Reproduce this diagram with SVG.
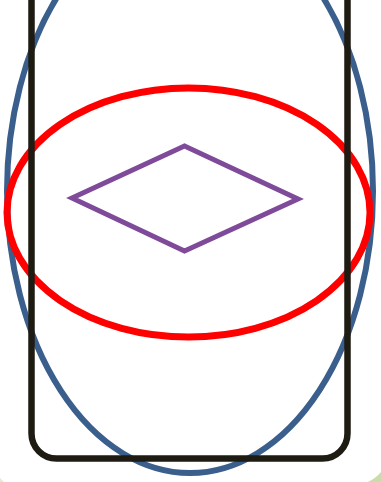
<svg xmlns="http://www.w3.org/2000/svg" width="381" height="482" viewBox="0 0 381 482">
<style>
.s{fill:none}
</style>
<rect width="381" height="482" fill="#ffffff"/>
<path d="M368,482 Q376,478 381,472 L381,482 Z" fill="#c9dca9"/>
<path d="M0,478 Q2,480 4,482 L0,482 Z" fill="#e3ecd3"/>
<g id="blue-ellipse"><ellipse class="s" cx="190" cy="191" rx="183" ry="282" stroke="#3a5f8c" stroke-width="6"/></g>
<g id="red-ellipse"><ellipse class="s" cx="188.5" cy="212.5" rx="181.5" ry="124.5" stroke="#ff0000" stroke-width="7"/></g>
<g id="black-rect"><rect class="s" x="31.5" y="-40" width="316" height="498.5" rx="25" stroke="#1e1b12" stroke-width="6.5"/></g>
<g id="diamond"><polygon class="s" points="72,198 184.5,146 298,199 184.5,251" stroke="#7f4a9a" stroke-width="5" stroke-linejoin="miter"/></g>
<g id="connectors"></g>
</svg>
